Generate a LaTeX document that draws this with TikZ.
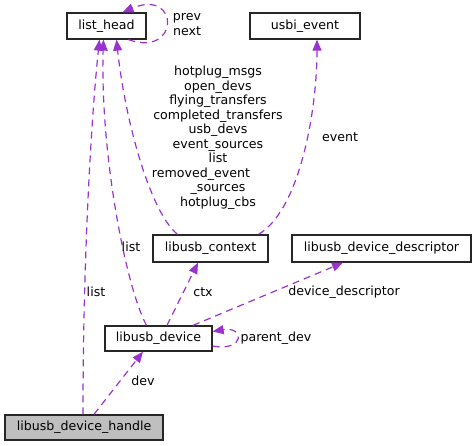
\documentclass[tikz,border=0pt]{standalone}
\usepackage{fontspec}
\setmainfont{DejaVu Sans}
\usetikzlibrary{arrows.meta}
\definecolor{edgec}{HTML}{9A32CD}
\begin{document}
\begin{tikzpicture}[x=1pt,y=-1pt, font=\fontsize{12.6}{14.5}\selectfont,
  box/.style={draw=black!85, line width=1.3pt, inner sep=0pt, minimum height=26pt, fill=white},
  rel/.style={draw=edgec, line width=1.2pt, dash pattern=on 7pt off 5pt, -{Triangle[length=11pt,width=9pt]}},
  lbl/.style={inner sep=0pt, align=center}]
\useasboundingbox (0,0) rectangle (476,446);
% nodes
\node[box, minimum width=79pt] (lh) at (106.5,26) {list\_head};
\node[box, minimum width=110pt] (ue) at (305,26) {usbi\_event};
\node[box, minimum width=115pt, minimum height=27pt] (ctx) at (210.5,248.5) {libusb\_context};
\node[box, minimum width=179pt, minimum height=27pt] (dd) at (381.5,248.5) {libusb\_device\_descriptor};
\node[box, minimum width=107pt, minimum height=25pt] (dev) at (158.5,338.5) {libusb\_device};
\node[box, minimum width=158pt, minimum height=25pt, fill=black!25] (dh) at (84,427.5) {libusb\_device\_handle};
% edges
\draw[rel] ([xshift=22pt]lh.south) .. controls (180,58) and (180,-12) .. ([xshift=16pt]lh.north);
\node[lbl] (lprev) at (187,24.5) {prev\\next};
\draw[rel] ([xshift=-1pt]dh.north) .. controls (83,250) and (92,110) .. ([xshift=-7pt]lh.south);
\node[lbl] (lhlist) at (96,292) {list};
\draw[rel] ([xshift=-12pt]dev.north) .. controls (125,285) and (100,150) .. ([xshift=-3pt]lh.south);
\node[lbl] (ldlist) at (131,247) {list};
\draw[rel] ([xshift=-33pt]ctx.north) .. controls (150,212) and (125,120) .. ([xshift=10pt]lh.south);
\node[lbl] (lbig) at (218,137.5) {hotplug\_msgs\\open\_devs\\flying\_transfers\\completed\_transfers\\usb\_devs\\event\_sources\\list\\\hbox{removed\_event\hspace{34pt}}\\\_sources\\hotplug\_cbs};
\draw[rel] ([xshift=48pt]ctx.north) .. controls (300,210) and (317,110) .. ([xshift=12pt]ue.south);
\node[lbl] (levent) at (340,137) {event};
\draw[rel] ([xshift=8.5pt]dev.north) -- ([xshift=-12.5pt]ctx.south);
\node[lbl] (lctx) at (203,292) {ctx};
\draw[rel] ([xshift=34.5pt]dev.north) -- ([xshift=-38.5pt]dd.south);
\node[lbl] (ldd) at (344,292) {device\_descriptor};
\draw[rel] ([yshift=-7.5pt]dev.east) .. controls (245,352) and (245,326) .. ([yshift=7pt]dev.east);
\node[lbl] (lpd) at (276,338) {parent\_dev};
\draw[rel] ([xshift=10pt]dh.north) -- ([xshift=-15.5pt]dev.south);
\node[lbl] (ldev) at (143,381) {dev};
\end{tikzpicture}
\end{document}
